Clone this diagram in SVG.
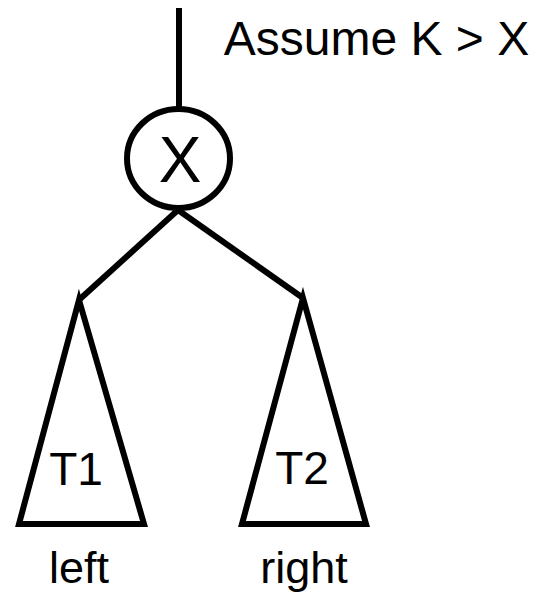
<svg xmlns="http://www.w3.org/2000/svg" width="536" height="593" viewBox="0 0 536 593">
<style>
.s{fill:none;stroke:#000;stroke-width:6;stroke-linejoin:miter}
.t{font-family:"Liberation Sans",Arial,sans-serif;fill:#000;text-anchor:middle}
</style>
<rect width="536" height="593" fill="#fff"/>
<g id="connectors">
<line class="s" x1="179" y1="8" x2="179" y2="108"/>
<line class="s" x1="178" y1="210" x2="80" y2="299"/>
<line class="s" x1="178" y1="210" x2="303" y2="298"/>
</g>
<g id="nodeX">
<ellipse class="s" cx="178.5" cy="158.5" rx="51.5" ry="49.5"/>
<text class="t" x="180" y="182" font-size="64">X</text>
</g>
<g id="T1">
<polygon class="s" points="79,300 144,524 19,524"/>
<text class="t" x="76" y="485" font-size="46">T1</text>
</g>
<g id="T2">
<polygon class="s" points="303,298 366,524 242,524"/>
<text class="t" x="302" y="484" font-size="46">T2</text>
</g>
<g id="labels">
<text class="t" x="376.5" y="55" font-size="48">Assume K &gt; X</text>
<text class="t" x="79" y="583" font-size="45">left</text>
<text class="t" x="304" y="583" font-size="45">right</text>
</g>
</svg>
